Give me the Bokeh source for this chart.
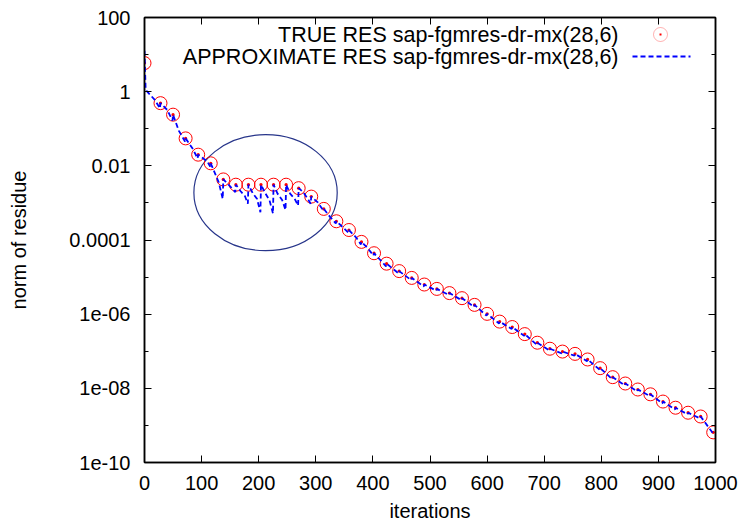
from bokeh.plotting import figure
from bokeh.models import (Range1d, FixedTicker, LinearAxis, LogAxis,
                          CustomJSTickFormatter, CustomLabelingPolicy, Label,
                          Arrow, BoxAnnotation)
from bokeh.embed import file_html
from bokeh.resources import INLINE

FONT = "Liberation Sans"
FS = "20px"
KEY_FS = "21.5px"

# ---------------- data ----------------
true_iter = [0, 28, 50, 72, 94, 116, 138, 160, 182, 204, 226, 248, 270, 292,
             314, 336, 358, 380, 402, 424, 446, 468, 490, 512, 534, 556, 578,
             600, 622, 644, 666, 688, 710, 732, 754, 776, 798, 820, 842, 864,
             886, 908, 930, 952, 974, 996]
true_res = [5.9, 0.49, 0.24, 0.055, 0.020, 0.0117, 0.0043, 0.0031, 0.0031,
            0.0031, 0.0031, 0.0031, 0.0025, 0.00148, 6.9e-4, 3.2e-4, 1.86e-4,
            8.9e-5, 4.4e-5, 2.3e-5, 1.45e-5, 9.5e-6, 6.3e-6, 4.8e-6, 3.7e-6,
            2.7e-6, 1.78e-6, 1.02e-6, 6.3e-7, 4.5e-7, 2.9e-7, 1.7e-7, 1.17e-7,
            9.8e-8, 8.5e-8, 6.0e-8, 3.5e-8, 2.0e-8, 1.35e-8, 9.3e-9, 6.9e-9,
            4.4e-9, 3.0e-9, 2.2e-9, 1.74e-9, 6.5e-10]

approx_iter = [0, 2, 18, 27, 28, 40, 49, 50, 60, 71, 72, 85, 93, 94, 110, 115,
               116, 124, 130, 137, 138, 150, 159, 160, 168, 176, 181, 182, 190,
               197, 203, 204, 212, 219, 225, 226, 233, 241, 247, 248, 255, 263,
               269, 270, 278, 286, 291, 292, 303, 313, 314, 325, 335, 336, 347,
               357, 358, 370, 379, 380, 391, 401, 402, 423, 424, 445, 446, 467,
               468, 489, 490, 511, 512, 533, 534, 555, 556, 577, 578, 599, 600,
               621, 622, 643, 644, 665, 666, 687, 688, 709, 710, 731, 732, 753,
               754, 775, 776, 797, 798, 819, 820, 841, 842, 863, 864, 885, 886,
               907, 908, 929, 930, 951, 952, 973, 974, 996]
approx_res = [12.6, 1.12, 0.60, 0.355, 0.49, 0.32, 0.166, 0.24, 0.089, 0.045,
              0.055, 0.028, 0.0158, 0.020, 0.0132, 0.0095, 0.0117, 0.0060,
              0.0036, 0.00129, 0.0043, 0.0028, 0.00195, 0.0031, 0.0021,
              0.00151, 9.5e-4, 0.0031, 0.00178, 0.00129, 5.6e-4, 0.0031,
              0.00178, 0.00117, 5.2e-4, 0.0031, 0.00178, 0.0012, 6.5e-4, 0.0031,
              0.00178, 0.00129, 8.5e-4, 0.0025, 0.00195, 0.00129, 9.5e-4,
              0.00148, 0.00105, 6.3e-4, 6.9e-4, 4.2e-4, 2.8e-4, 3.2e-4, 2.24e-4,
              1.58e-4, 1.86e-4, 1.2e-4, 7.6e-5, 8.9e-5, 6.0e-5, 3.8e-5, 4.4e-5,
              1.95e-5, 2.3e-5, 1.26e-5, 1.45e-5, 8.3e-6, 9.5e-6, 5.6e-6, 6.3e-6,
              4.3e-6, 4.8e-6, 3.3e-6, 3.7e-6, 2.4e-6, 2.7e-6, 1.58e-6, 1.78e-6,
              9.1e-7, 1.02e-6, 5.6e-7, 6.3e-7, 4.0e-7, 4.5e-7, 2.6e-7, 2.9e-7,
              1.5e-7, 1.7e-7, 1.05e-7, 1.17e-7, 8.7e-8, 9.8e-8, 7.6e-8, 8.5e-8,
              5.4e-8, 6.0e-8, 3.2e-8, 3.5e-8, 1.78e-8, 2.0e-8, 1.2e-8, 1.35e-8,
              8.3e-9, 9.3e-9, 6.2e-9, 6.9e-9, 3.9e-9, 4.4e-9, 2.7e-9, 3.0e-9,
              2.0e-9, 2.2e-9, 1.55e-9, 1.74e-9, 6.0e-10]

x_ticks = [0, 100, 200, 300, 400, 500, 600, 700, 800, 900, 1000]
y_tick_exponents = [2, 0, -2, -4, -6, -8, -10]
y_tick_labels = ["100", "1", "0.01", "0.0001", "1e-06", "1e-08", "1e-10"]
y_minor_exponents = [1, -1, -3, -5, -7, -9]

x_title = "iterations"
y_title = "norm of residue"
legend_labels = ["TRUE RES sap-fgmres-dr-mx(28,6)",
                 "APPROXIMATE RES sap-fgmres-dr-mx(28,6)"]

# highlighted region (ellipse annotation)
ellipse_center_iter = 212
ellipse_center_res = 0.00189
ellipse_width_iter = 251
ellipse_height_px = 116

y_ticks = [10.0 ** e for e in y_tick_exponents]
y_minor = [10.0 ** e for e in y_minor_exponents]

# ---------------- figure ----------------
p = figure(width=743, height=525, x_range=Range1d(0, 1000),
           y_range=Range1d(1e-10, 100), y_axis_type="log",
           output_backend="svg", toolbar_location=None,
           min_border_left=144, min_border_right=28, min_border_top=17,
           min_border_bottom=63, background_fill_color="white",
           border_fill_color="white", outline_line_color="black",
           outline_line_width=1.5)
p.xgrid.visible = False
p.ygrid.visible = False


def style_axis(ax):
    ax.axis_line_color = "black"
    ax.axis_line_width = 1.5
    ax.major_tick_line_color = "black"
    ax.minor_tick_line_color = "black"
    ax.major_tick_in = 7
    ax.major_tick_out = 0
    ax.minor_tick_out = 0
    ax.major_label_text_font = FONT
    ax.major_label_text_font_size = FS
    ax.major_label_text_color = "black"
    ax.axis_label_text_font = FONT
    ax.axis_label_text_font_size = FS
    ax.axis_label_text_font_style = "normal"
    ax.axis_label_text_color = "black"


xa = p.xaxis[0]
style_axis(xa)
xa.ticker = FixedTicker(ticks=x_ticks, minor_ticks=[])
xa.minor_tick_in = 0
xa.major_label_standoff = 13
xa.axis_label = x_title
xa.axis_label_standoff = 7

y_formatter = CustomJSTickFormatter(
    args=dict(exps=y_tick_exponents, texts=y_tick_labels),
    code="const e = Math.round(Math.log10(tick)); const i = exps.indexOf(e); "
         "return i >= 0 ? texts[i] : '';")

ya = p.yaxis[0]
style_axis(ya)
ya.ticker = FixedTicker(ticks=y_ticks, minor_ticks=y_minor)
ya.formatter = y_formatter
ya.minor_tick_in = 4
ya.major_label_standoff = 14
ya.axis_label = y_title
ya.axis_label_standoff = 36

# mirror axes: ticks only, every label hidden by the labeling policy
hide_all = "for (const i of Array.from(indices)) { indices.unset(i) }; return indices;"

top = LinearAxis(ticker=FixedTicker(ticks=x_ticks, minor_ticks=[]))
style_axis(top)
top.minor_tick_in = 0
top.major_label_text_font_size = "6px"
top.major_label_standoff = 0
top.major_label_policy = CustomLabelingPolicy(code=hide_all)
p.add_layout(top, "above")

right = LogAxis(ticker=FixedTicker(ticks=y_ticks, minor_ticks=y_minor))
style_axis(right)
right.minor_tick_in = 4
right.major_label_text_font_size = "6px"
right.major_label_standoff = 0
right.major_label_policy = CustomLabelingPolicy(code=hide_all)
p.add_layout(right, "right")

# ---------------- glyphs ----------------
p.ellipse(x=[ellipse_center_iter], y=[ellipse_center_res],
          width=ellipse_width_iter, height=ellipse_height_px,
          height_units="screen", fill_color=None, line_color="#27358a",
          line_width=1.2)

p.scatter(true_iter, true_res, marker="circle_dot", size=13,
          line_color="#ff0000", fill_color=None, line_width=1)
p.line(approx_iter, approx_res, line_color="#0000ff", line_width=1.8,
       line_dash="5 3")

# ---------------- gnuplot-style key (text right, sample left) ----------------
key_text_right = 474
key_rows_y = [428, 406]
for txt, yy in zip(legend_labels, key_rows_y):
    p.add_layout(Label(x=key_text_right, y=yy, x_units="screen",
                       y_units="screen", text=txt, text_align="right",
                       text_baseline="middle", text_font=FONT,
                       text_font_size=KEY_FS, text_color="black"))

p.add_layout(BoxAnnotation(left=509, right=523, bottom=421, top=435,
                           left_units="screen", right_units="screen",
                           bottom_units="screen", top_units="screen",
                           fill_color=None, line_color="#ff0000",
                           line_width=1, border_radius=7))
p.add_layout(BoxAnnotation(left=515, right=517, bottom=427, top=429,
                           left_units="screen", right_units="screen",
                           bottom_units="screen", top_units="screen",
                           fill_color="#ff0000", fill_alpha=1,
                           line_color=None))
p.add_layout(Arrow(x_start=488, y_start=406, x_end=546, y_end=406,
                   start_units="screen", end_units="screen", end=None,
                   line_color="#0000ff", line_width=1.8, line_dash="5 3"))

open("out.html", "w").write(file_html(p, INLINE))
